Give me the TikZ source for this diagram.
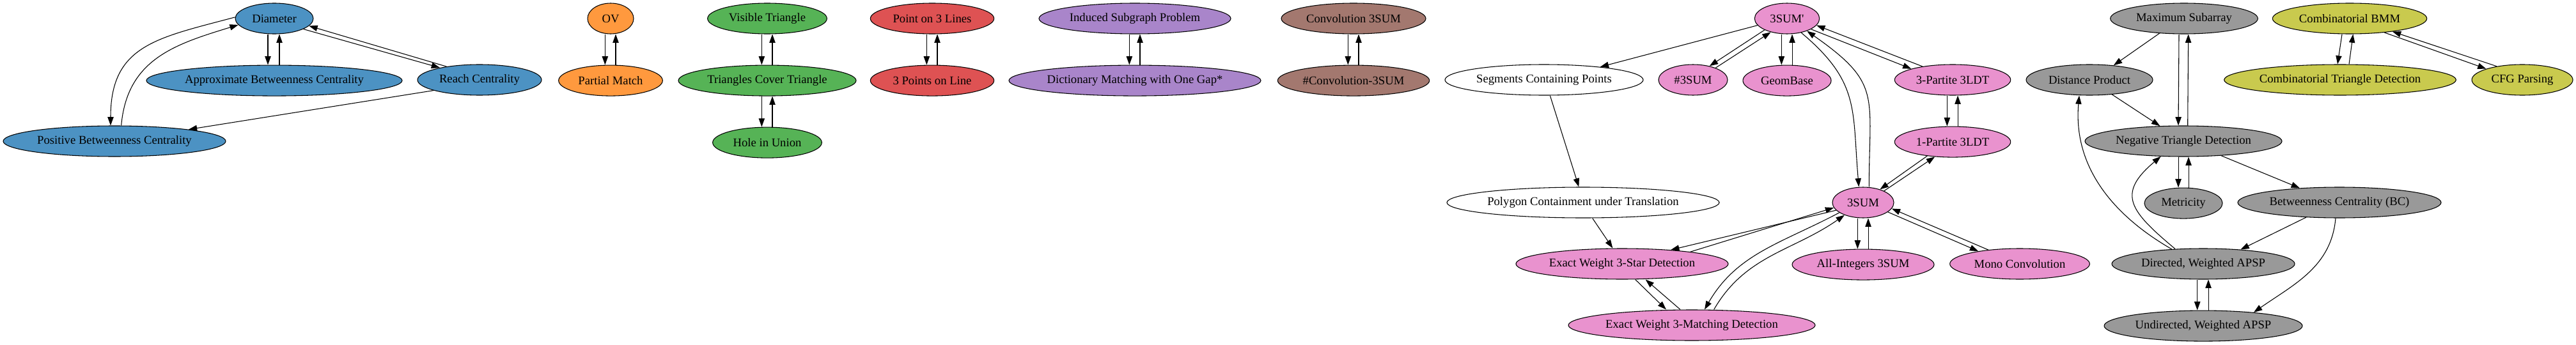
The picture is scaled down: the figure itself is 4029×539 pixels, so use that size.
\documentclass[tikz,border=0pt]{standalone}
\usepackage{fontspec}
\newfontfamily\gvfont{Liberation Serif}
\usepackage{tikz}
\usetikzlibrary{arrows.meta, positioning, shapes.geometric}
\definecolor{tabblue}{HTML}{4C92C3}
\definecolor{taborange}{HTML}{FF993E}
\definecolor{tabgreen}{HTML}{56B356}
\definecolor{tabred}{HTML}{DE5253}
\definecolor{tabpurple}{HTML}{A985CA}
\definecolor{tabbrown}{HTML}{A3786F}
\definecolor{tabpink}{HTML}{E992CE}
\definecolor{tabgray}{HTML}{999999}
\definecolor{tabolive}{HTML}{C9CA4E}

\begin{document}
\begin{tikzpicture}[
  x=0.75pt, y=-0.75pt,
  prob/.style={ellipse, draw=black, line width=0.8pt, inner xsep=0pt, inner ysep=2pt,
               minimum width=54pt, minimum height=36pt,
               font=\gvfont\fontsize{14}{16}\selectfont},
  arr/.style={-{Triangle[length=10pt, width=7pt]}, line width=0.8pt},
]
\path[use as bounding box] (0,0) rectangle (4029,539);

% betweenness / diameter
\node[prob, fill=tabblue, minimum width=91.5pt] (dia) at (429,29) {Diameter};
\node[prob, fill=tabblue, minimum width=300pt, below=36pt of dia] (abc) {Approximate Betweenness Centrality};
\node[prob, fill=tabblue, minimum width=145.5pt] (reach) at (750,125) {Reach Centrality};
\node[prob, fill=tabblue, minimum width=261pt] (pbc) at (179,221) {Positive Betweenness Centrality};

% OV
\node[prob, fill=taborange] (ov) at (955,29) {OV};
\node[prob, fill=taborange, minimum width=122pt, below=36pt of ov] (pmatch) {Partial Match};

% geometry
\node[prob, fill=tabgreen, minimum width=140pt] (vistri) at (1200,29) {Visible Triangle};
\node[prob, fill=tabgreen, minimum width=208.5pt, below=36pt of vistri] (tct) {Triangles Cover Triangle};
\node[prob, fill=tabgreen, minimum width=128pt, below=36pt of tct] (hole) {Hole in Union};
\node[prob, fill=tabred, minimum width=145pt] (pt3l) at (1458,29) {Point on 3 Lines};
\node[prob, fill=tabred, minimum width=145pt, below=36pt of pt3l] (pts3l) {3 Points on Line};

% strings / subgraphs
\node[prob, fill=tabpurple, minimum width=225pt] (isp) at (1775,29) {Induced Subgraph Problem};
\node[prob, fill=tabpurple, minimum width=295.5pt, below=36pt of isp] (dmatch) {Dictionary Matching with One Gap*};
\node[prob, fill=tabbrown, minimum width=169.5pt] (conv) at (2117,29) {Convolution 3SUM};
\node[prob, fill=tabbrown, minimum width=178pt, below=36pt of conv] (hconv) {\#Convolution-3SUM};

% 3SUM family
\node[prob, minimum width=232.5pt] (seg) at (2415,125) {Segments Containing Points};
\node[prob, minimum width=319.5pt] (poly) at (2476,317) {Polygon Containment under Translation};
\node[prob, fill=tabpink, minimum width=76pt] (s3p) at (2795,29) {3SUM'};
\node[prob, fill=tabpink, minimum width=81pt] (h3) at (2648,125) {\#3SUM};
\node[prob, fill=tabpink, minimum width=103.5pt, below=36pt of s3p] (geom) {GeomBase};
\node[prob, fill=tabpink, minimum width=136pt] (p3) at (3054,125) {3-Partite 3LDT};
\node[prob, fill=tabpink, minimum width=136pt, below=36pt of p3] (p1) {1-Partite 3LDT};
\node[prob, fill=tabpink, minimum width=72pt] (s3) at (2914,317) {3SUM};
\node[prob, fill=tabpink, minimum width=249pt] (star) at (2537,413) {Exact Weight 3-Star Detection};
\node[prob, fill=tabpink, minimum width=289.5pt] (match) at (2646,509) {Exact Weight 3-Matching Detection};
\node[prob, fill=tabpink, minimum width=166.5pt, below=36pt of s3] (allint) {All-Integers 3SUM};
\node[prob, fill=tabpink, minimum width=164pt] (mono) at (3159,413) {Mono Convolution};

% APSP family
\node[prob, fill=tabgray, minimum width=173pt] (maxsub) at (3416,29) {Maximum Subarray};
\node[prob, fill=tabgray, minimum width=148.5pt] (dp) at (3268,125) {Distance Product};
\node[prob, fill=tabgray, minimum width=231pt] (ntd) at (3415,221) {Negative Triangle Detection};
\node[prob, fill=tabgray, minimum width=91.5pt, below=36pt of ntd] (metr) {Metricity};
\node[prob, fill=tabgray, minimum width=238.5pt] (bc) at (3659,317) {Betweenness Centrality (BC)};
\node[prob, fill=tabgray, minimum width=214.5pt] (dapsp) at (3446,413) {Directed, Weighted APSP};
\node[prob, fill=tabgray, minimum width=232.5pt, below=36pt of dapsp] (uapsp) {Undirected, Weighted APSP};

% BMM
\node[prob, fill=tabolive, minimum width=181pt] (bmm) at (3675,29) {Combinatorial BMM};
\node[prob, fill=tabolive, minimum width=272pt] (ctd) at (3660,125) {Combinatorial Triangle Detection};
\node[prob, fill=tabolive, minimum width=118.5pt] (cfg) at (3945,125) {CFG Parsing};

% reductions
\draw[arr] ([xshift=-7.5pt]dia.south) -- ([xshift=-7.5pt]abc.north);
\draw[arr] ([xshift=6pt]abc.north) -- ([xshift=6pt]dia.south);
\draw[arr] (dia.-20) -- (reach.163);
\draw[arr] (reach.158) -- (dia.-12);
\draw[arr] (dia.178) to[out=195, in=90, looseness=1.25] ([xshift=-4.5pt]pbc.north);
\draw[arr] ([xshift=8pt]pbc.north) to[out=85, in=197, looseness=1.1] (dia.190);
\draw[arr] (reach.193) -- (pbc.9);

\draw[arr] ([xshift=-6.5pt]ov.south) -- ([xshift=-6.5pt]pmatch.north);
\draw[arr] ([xshift=6pt]pmatch.north) -- ([xshift=6pt]ov.south);
\draw[arr] ([xshift=-6.5pt]vistri.south) -- ([xshift=-6.5pt]tct.north);
\draw[arr] ([xshift=6pt]tct.north) -- ([xshift=6pt]vistri.south);
\draw[arr] ([xshift=-6.5pt]tct.south) -- ([xshift=-6.5pt]hole.north);
\draw[arr] ([xshift=6pt]hole.north) -- ([xshift=6pt]tct.south);
\draw[arr] ([xshift=-6.5pt]pt3l.south) -- ([xshift=-6.5pt]pts3l.north);
\draw[arr] ([xshift=6pt]pts3l.north) -- ([xshift=6pt]pt3l.south);
\draw[arr] ([xshift=-6.5pt]isp.south) -- ([xshift=-6.5pt]dmatch.north);
\draw[arr] ([xshift=6pt]dmatch.north) -- ([xshift=6pt]isp.south);
\draw[arr] ([xshift=-6.5pt]conv.south) -- ([xshift=-6.5pt]hconv.north);
\draw[arr] ([xshift=6pt]hconv.north) -- ([xshift=6pt]conv.south);

\draw[arr] (s3p.193) -- (seg.13);
\draw[arr] (s3p.207) -- (h3.40);
\draw[arr] (h3.28) -- (s3p.220);
\draw[arr] ([xshift=-6.5pt]s3p.south) -- ([xshift=-6.5pt]geom.north);
\draw[arr] ([xshift=6pt]geom.north) -- ([xshift=6pt]s3p.south);
\draw[arr] (s3p.-24) -- (p3.165);
\draw[arr] (p3.156) -- (s3p.-13);
\draw[arr] (s3p.-45) to[out=-40, in=95, looseness=1.2] ([xshift=-5pt]s3.north);
\draw[arr] ([xshift=7pt]s3.north) to[out=90, in=-35, looseness=1.4] (s3p.-32);
\draw[arr] ([xshift=-6.5pt]p3.south) -- ([xshift=-6.5pt]p1.north);
\draw[arr] ([xshift=6pt]p1.north) -- ([xshift=6pt]p3.south);
\draw[arr] (p1.209) -- (s3.38);
\draw[arr] (s3.29) -- (p1.220);
\draw[arr] ([xshift=7pt]seg.south) -- ([xshift=-5pt]poly.north);
\draw[arr] ([xshift=11pt]poly.south) -- ([xshift=-11pt]star.north);
\draw[arr] (star.10) -- (s3.190);
\draw[arr] (s3.196) -- (star.16);
\draw[arr] (s3.203) to[out=208, in=60] ([xshift=15pt]match.north);
\draw[arr] ([xshift=26pt]match.north) to[out=60, in=215] (s3.214);
\draw[arr] ([xshift=15.5pt]star.south) -- ([xshift=-30pt]match.north);
\draw[arr] ([xshift=-13.5pt]match.north) -- ([xshift=27.5pt]star.south);
\draw[arr] ([xshift=-6.5pt]s3.south) -- ([xshift=-6.5pt]allint.north);
\draw[arr] ([xshift=6pt]allint.north) -- ([xshift=6pt]s3.south);
\draw[arr] (s3.-21) -- (mono.163);
\draw[arr] (mono.156) -- (s3.-12);

\draw[arr] (maxsub.211) -- (dp.31);
\draw[arr] ([xshift=-6pt]maxsub.south) -- ([xshift=-6pt]ntd.north);
\draw[arr] ([xshift=5pt]ntd.north) -- ([xshift=5pt]maxsub.south);
\draw[arr] (dp.-33) -- (ntd.147);
\draw[arr] ([xshift=-6pt]ntd.south) -- ([xshift=-6pt]metr.north);
\draw[arr] ([xshift=6pt]metr.north) -- ([xshift=6pt]ntd.south);
\draw[arr] (ntd.-21) -- (bc.160);
\draw[arr] (bc.204) -- (dapsp.21);
\draw[arr] ([xshift=-4.5pt]bc.south) to[out=-95, in=35] (uapsp.15);
\draw[arr] (dapsp.155) to[out=150, in=-95] ([xshift=-12pt]dp.south);
\draw[arr] (dapsp.152) to[out=140, in=220, looseness=1.6] (ntd.214);
\draw[arr] ([xshift=-7pt]dapsp.south) -- ([xshift=-7pt]uapsp.north);
\draw[arr] ([xshift=6pt]uapsp.north) -- ([xshift=6pt]dapsp.south);

\draw[arr] ([xshift=-9pt]bmm.south) -- ([xshift=-3pt]ctd.north);
\draw[arr] ([xshift=10.5pt]ctd.north) -- ([xshift=4pt]bmm.south);
\draw[arr] (bmm.-22) -- (cfg.163);
\draw[arr] (cfg.152) -- (bmm.-17);
\end{tikzpicture}
\end{document}
